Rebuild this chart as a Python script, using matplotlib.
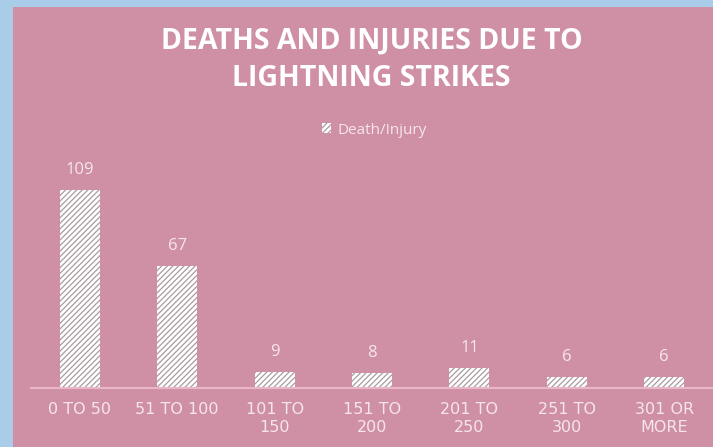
import matplotlib
matplotlib.use('Agg')
import matplotlib.pyplot as plt
from matplotlib.patches import Rectangle

# data
categories = ['0 TO 50', '51 TO 100', '101 TO\n150', '151 TO\n200',
              '201 TO\n250', '251 TO\n300', '301 OR\nMORE']
values = [109, 67, 9, 8, 11, 6, 6]
title = 'DEATHS AND INJURIES DUE TO\nLIGHTNING STRIKES'
series_name = 'Death/Injury'

pink = '#cf8fa5'
blue = '#a9cce9'
txt = '#f6e6ec'

plt.rcParams['hatch.linewidth'] = 0.9

fig = plt.figure(figsize=(7.13, 4.47), dpi=100, facecolor=blue)
fig.patches.append(Rectangle((13 / 713, 0), 1, 1 - 7 / 447, transform=fig.transFigure,
                             facecolor=pink, edgecolor='none', zorder=-5))

ax = fig.add_axes([31 / 713, 59 / 447, 682 / 713, 218 / 447])
ax.set_facecolor('none')

x = range(len(values))
bars = ax.bar(x, values, width=0.41, color='white', edgecolor='#a99aa2',
              linewidth=0, hatch='//////', label=series_name)

for i, v in enumerate(values):
    ax.text(i, v + 11, str(v), ha='center', va='center', color=txt,
            fontsize=12, family='Open Sans')

ax.set_xlim(-0.5, len(values) - 0.5)
ax.set_ylim(0, 120)
ax.set_yticks([])
ax.set_xticks(list(x))
ax.set_xticklabels(categories, color=txt, fontsize=11.5, family='DejaVu Sans',
                   linespacing=1.3)
ax.tick_params(axis='x', length=0, pad=10)
for s in ['top', 'right', 'left']:
    ax.spines[s].set_visible(False)
ax.spines['bottom'].set_color('#e9b7c7')
ax.spines['bottom'].set_linewidth(1.5)

fig.text(0.521, 1 - 60 / 447, title, ha='center', va='center', color='white',
         fontsize=20.5, fontweight='bold', family='Open Sans', linespacing=1.4)

leg = fig.legend(handles=[bars], labels=[series_name], loc='center',
                 bbox_to_anchor=(0.525, 1 - 130 / 447), frameon=False,
                 handlelength=0.6, handleheight=0.6, handletextpad=0.4,
                 prop={'family': 'Open Sans', 'size': 11})
for t in leg.get_texts():
    t.set_color(txt)

fig.savefig('out.png', dpi=100, facecolor=blue)
